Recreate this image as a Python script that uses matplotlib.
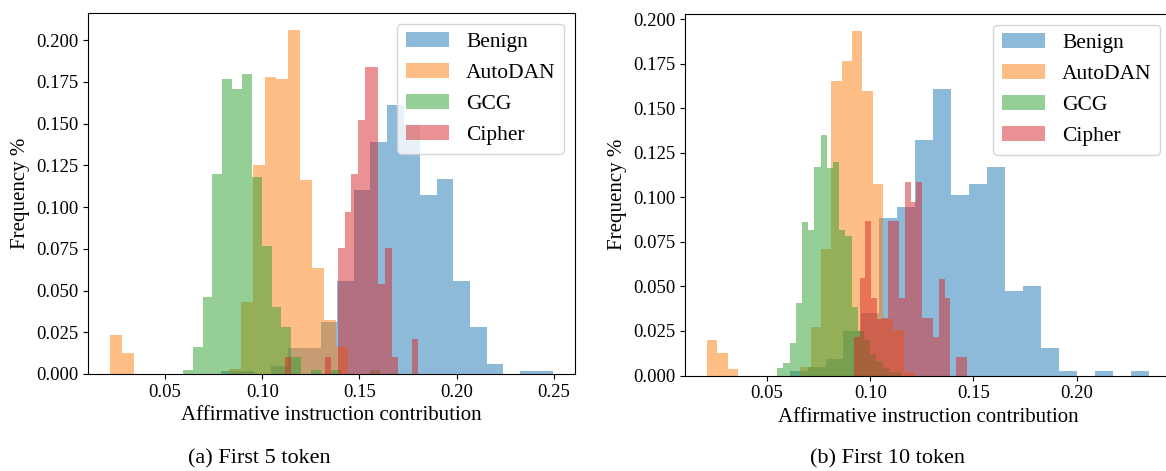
import numpy as np
import matplotlib
matplotlib.use('Agg')
import matplotlib.pyplot as plt

plt.rcParams['font.family'] = ['Liberation Serif', 'DejaVu Serif']

labels = ['Benign', 'AutoDAN', 'GCG', 'Cipher']

# first 5 token: (min, max) of the data and the frequency of each of the 20 bins
benign5_range = (0.0789, 0.2496)
benign5_freq = [0.002, 0.002, 0.0, 0.005, 0.0156, 0.0156, 0.031, 0.056, 0.110, 0.139,
                0.161, 0.150, 0.107, 0.117, 0.056, 0.028, 0.006, 0.0, 0.002, 0.002]
autodan5_range = (0.0217, 0.1440)
autodan5_freq = [0.0234, 0.0124, 0, 0, 0, 0, 0, 0, 0, 0,
                 0.003, 0.043, 0.125, 0.178, 0.177, 0.206, 0.116, 0.0637, 0.0323, 0.016]
gcg5_range = (0.0591, 0.1607)
gcg5_freq = [0.0024, 0.0163, 0.0463, 0.1198, 0.177, 0.171, 0.180, 0.118, 0.0768, 0.0403,
             0.0283, 0.0102, 0, 0.0024, 0, 0.0024, 0, 0, 0, 0.0024]
cipher5_range = (0.1115, 0.1803)
cipher5_freq = [0.0104, 0, 0, 0, 0, 0, 0.0104, 0, 0.0754, 0.097,
                0.12, 0.152, 0.184, 0.184, 0.054, 0.0756, 0.0104, 0, 0, 0.021]

# first 10 token
benign10_range = (0.0609, 0.2351)
benign10_freq = [0.0027, 0.005, 0.009, 0.025, 0.035, 0.0882, 0.0947, 0.1325, 0.1611, 0.1013,
                 0.1074, 0.1168, 0.0476, 0.0502, 0.0156, 0.0027, 0, 0.0027, 0, 0.0027]
autodan10_range = (0.0209, 0.1213)
autodan10_freq = [0.0199, 0.0125, 0.0035, 0, 0, 0, 0, 0, 0, 0.005,
                  0.027, 0.0708, 0.1656, 0.1764, 0.1933, 0.160, 0.1074, 0.032, 0.0255, 0.002]
gcg10_range = (0.0549, 0.1150)
gcg10_freq = [0.004, 0.0072, 0.018, 0.0405, 0.0863, 0.0816, 0.1168, 0.1349, 0.1166, 0.12,
              0.0816, 0.0784, 0.0386, 0.025, 0.02, 0.012, 0.008, 0.004, 0.002, 0.002]
cipher10_range = (0.0921, 0.1470)
cipher10_freq = [0.0218, 0.0545, 0.0867, 0.0433, 0.032, 0.0324, 0.0867, 0.0867, 0.0433, 0.1084,
                 0.0975, 0.1084, 0.0324, 0.0324, 0.0218, 0.054, 0.0433, 0, 0.0105, 0.0105]

panels = [
  ('(a) First 5 token', [(benign5_range, benign5_freq), (autodan5_range, autodan5_freq),
                         (gcg5_range, gcg5_freq), (cipher5_range, cipher5_freq)]),
  ('(b) First 10 token', [(benign10_range, benign10_freq), (autodan10_range, autodan10_freq),
                          (gcg10_range, gcg10_freq), (cipher10_range, cipher10_freq)]),
]

W, H = 1166, 471
fig = plt.figure(figsize=(W / 100, H / 100), dpi=100)
# axes boxes in pixels: left, top, right, bottom
boxes = [(88, 13, 575, 374), (685, 14, 1171, 375.5)]
caption_x = [259, 888]

for (caption, series), (l, t, r, b), cx in zip(panels, boxes, caption_x):
  ax = fig.add_axes([l / W, (H - b) / H, (r - l) / W, (b - t) / H])
  for (rng, freq), name in zip(series, labels):
    edges = np.linspace(rng[0], rng[1], len(freq) + 1)
    centers = (edges[:-1] + edges[1:]) / 2
    ax.hist(centers, bins=edges, weights=freq, alpha=0.5, label=name)
  ax.set_xlabel('Affirmative instruction contribution', fontsize=15)
  ax.set_ylabel('Frequency %', fontsize=15)
  ax.tick_params(labelsize=13.5)
  ax.legend(loc='upper right', fontsize=15.5)
  fig.text(cx / W, 1 - 459 / H, caption, ha='center', va='center', fontsize=16)

fig.savefig('out.png', dpi=100)
